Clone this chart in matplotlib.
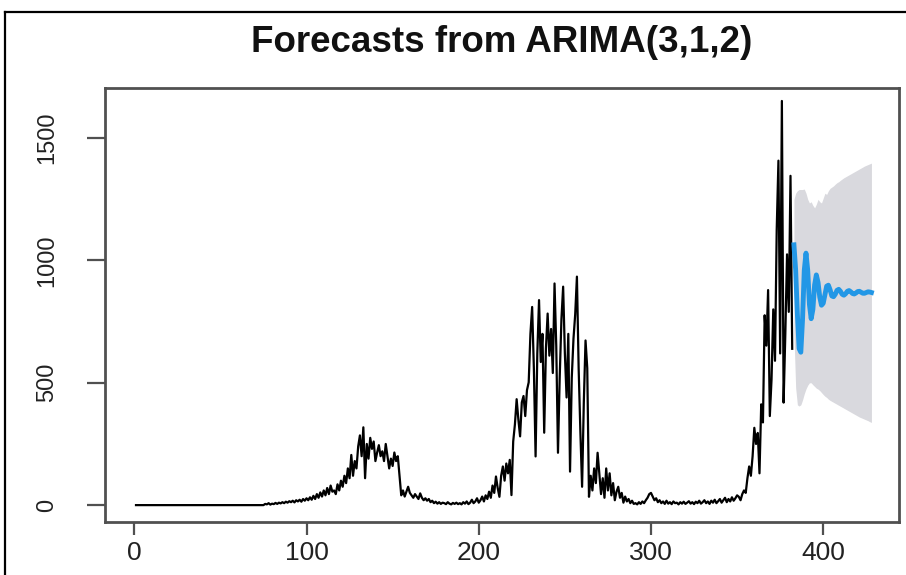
import numpy as np
import matplotlib
matplotlib.use("Agg")
import matplotlib.pyplot as plt
from matplotlib.lines import Line2D

plt.rcParams['font.family'] = ['Liberation Sans', 'DejaVu Sans']

# observed series (day 1 .. 382)
flat_start = [0, 0, 0, 0, 0, 0, 0, 0, 0, 0, 0, 0, 0, 0, 0,
              0, 0, 0, 0, 0, 0, 0, 0, 0, 0, 0, 0, 0, 0, 0,
              0, 0, 0, 0, 0, 0, 0, 0, 0, 0, 0, 0, 0, 0, 0,
              0, 0, 0, 0, 0, 0, 0, 0, 0, 0, 0, 0, 0, 0, 0,
              0, 0, 0, 0, 0, 0, 0, 0, 0, 0, 0, 0, 0, 0, 0]
wave1_rise = [5, 3, 8, 2, 6, 4, 9, 5, 10, 7, 12, 8, 14, 10, 16, 12, 18, 11, 20, 15,
              22, 14, 25, 18, 28, 20, 32, 22, 38, 25, 45, 30, 52, 35, 60, 40, 70, 45, 80, 55]
wave1 = [60, 45, 85, 60, 100, 75, 120, 90, 150, 110,
         205, 120, 180, 150, 240, 285, 200, 318, 110, 250,
         190, 275, 230, 260, 180, 215, 245, 200, 220, 180,
         250, 200, 150, 190, 160, 215, 180, 200, 120, 40,
         60, 35, 55, 75, 50, 40, 30, 45, 35, 25,
         48, 30, 20, 28, 18, 25, 12, 18, 8, 14,
         6, 12, 5, 10, 8, 4, 12, 6, 3, 9,
         5, 10, 4, 8, 3, 12, 6, 15, 4, 10,
         22, 8, 15, 28, 10]
wave2 = [20, 35, 15, 40, 25, 55, 30, 80, 50, 117,
         70, 34, 120, 158, 100, 170, 130, 185, 41, 260,
         330, 433, 350, 281, 420, 446, 364, 470, 502, 700,
         810, 560, 199, 620, 838, 585, 700, 296, 640, 783,
         611, 720, 540, 906, 650, 214, 520, 760, 893, 620,
         440, 700, 137, 520, 680, 780, 934, 560, 300, 75,
         420, 673, 560, 34, 120, 60, 150, 90, 214, 130,
         45, 110, 30, 150, 60]
wave2_tail = [130, 40, 90, 20, 55, 75, 30, 50, 10, 35, 15, 25, 8, 18, 5]
trough = [8, 3, 12, 5, 15, 8, 20, 30, 45, 50,
          35, 20, 28, 12, 20, 8, 15, 5, 18, 6,
          12, 4, 15, 8, 10, 3, 12, 6, 14, 5,
          10, 16, 6, 12, 4, 14, 8, 18, 6, 12,
          20, 8, 15, 5, 18, 10, 22, 8, 16, 25,
          10, 20, 30, 12, 25, 15, 32, 18, 28, 40,
          34, 20, 45, 60, 50]
wave3 = [110, 158, 120, 200, 316, 250, 295, 130, 412, 338,
         776, 652, 879, 364, 515, 800, 590, 1126, 1408, 620,
         1652, 419, 700, 1025, 790, 1346, 639]

# forecast (46 steps) with 95% interval
fc_mean = [1064, 960, 780, 640, 625, 760, 960, 1030, 960, 820,
           762, 800, 900, 941, 910, 850, 817, 825, 860, 895,
           899, 880, 855, 852, 862, 878, 882, 874, 862, 858,
           864, 874, 877, 872, 865, 863, 867, 873, 874, 870,
           866, 866, 869, 872, 871, 869]
fc_upper = [1250, 1275, 1285, 1290, 1290, 1290, 1292, 1275, 1250, 1235,
            1240, 1225, 1215, 1230, 1250, 1240, 1235, 1255, 1275, 1270,
            1285, 1295, 1300, 1305, 1312, 1318, 1322, 1328, 1333, 1338,
            1342, 1346, 1350, 1354, 1358, 1362, 1366, 1370, 1374, 1378,
            1382, 1386, 1389, 1392, 1395, 1398]
fc_lower = [700, 480, 410, 405, 410, 430, 455, 475, 490, 500,
            500, 492, 485, 478, 474, 468, 460, 452, 445, 440,
            433, 428, 424, 420, 416, 412, 408, 404, 400, 396,
            392, 388, 384, 380, 376, 372, 368, 364, 360, 357,
            354, 351, 348, 345, 341, 338]

observed = np.array(flat_start + wave1_rise + wave1 + wave2 + wave2_tail + trough + wave3, dtype=float)
x_obs = np.arange(1, len(observed) + 1)
x_fc = np.arange(len(observed) + 1, len(observed) + 1 + len(fc_mean))

W, H = 906, 575
fig = plt.figure(figsize=(W / 100, H / 100), dpi=100)
ax = fig.add_axes([105 / W, 1 - 522 / H, (899 - 105) / W, (522 - 88) / H])

ax.fill_between(x_fc, fc_lower, fc_upper, color="#D9D9DE", linewidth=0)
ax.plot(x_obs, observed, color="black", linewidth=1.6)
ax.plot(x_fc, fc_mean, color="#2297E6", linewidth=3.5)

ax.set_xlim(-17, 444)
ax.set_ylim(-69, 1705)
ax.set_xticks([0, 100, 200, 300, 400])
ax.set_yticks([0, 500, 1000, 1500])

for s in ax.spines.values():
    s.set_color("#505050")
    s.set_linewidth(2)

ax.tick_params(axis="x", direction="out", length=9, width=1.6, color="#505050",
               labelsize=19, pad=5, labelcolor="#222222")
ax.tick_params(axis="y", direction="out", length=13, width=1.6, color="#505050",
               labelsize=17, pad=21, labelcolor="#222222")
for lab in ax.get_yticklabels():
    lab.set_rotation(90)
    lab.set_va("center")

fig.text((105 + 899) / 2 / W, 1 - 42 / H, "Forecasts from ARIMA(3,1,2)",
         ha="center", va="center", fontsize=26.5, fontweight="bold", color="#111111")

# outer frame of the screenshot
fig.add_artist(Line2D([5 / W, 1.0], [1 - 12 / H, 1 - 12 / H], color="black",
                      linewidth=1.6, transform=fig.transFigure))
fig.add_artist(Line2D([5 / W, 5 / W], [0.0, 1 - 12 / H], color="black",
                      linewidth=1.6, transform=fig.transFigure))

fig.savefig("out.png", dpi=100)
